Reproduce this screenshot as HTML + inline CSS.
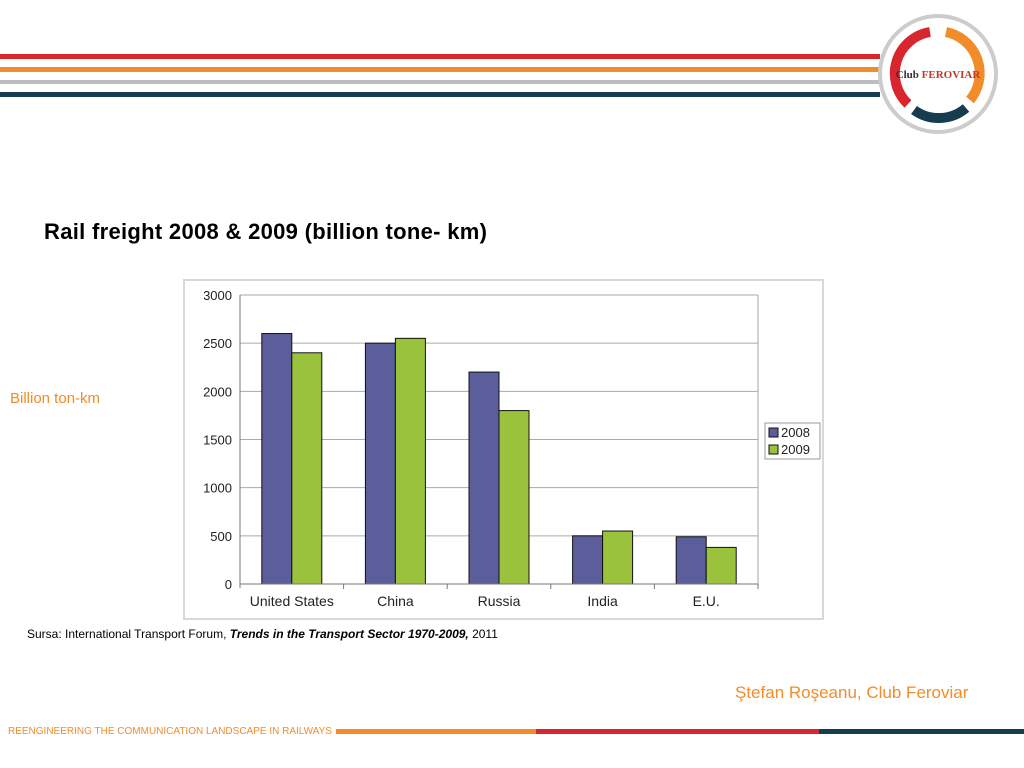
<!DOCTYPE html>
<html><head><meta charset="utf-8"><style>
body{margin:0;width:1024px;height:768px;background:#fff;position:relative;overflow:hidden;font-family:"Liberation Sans",sans-serif}
.abs{position:absolute}
</style></head><body>
<div class="abs" style="left:0;top:54px;width:880px;height:5px;background:#d9262e"></div>
<div class="abs" style="left:0;top:67px;width:880px;height:5px;background:#f28c28"></div>
<div class="abs" style="left:0;top:80px;width:880px;height:4px;background:#bdbdbd"></div>
<div class="abs" style="left:0;top:92px;width:880px;height:5px;background:#163d4f"></div>
<svg class="abs" style="left:870px;top:6px" width="154" height="140">
<circle cx="68" cy="68" r="58" fill="#fff" stroke="#ccc" stroke-width="4"/>
<path d="M60 26 A42 42 0 0 0 38 98" fill="none" stroke="#d9262e" stroke-width="10"/>
<path d="M76 26 A42 42 0 0 1 100 94" fill="none" stroke="#f28c28" stroke-width="10"/>
<path d="M44 104 A42 42 0 0 0 96 102" fill="none" stroke="#163d4f" stroke-width="10"/>
<text x="68" y="72" font-size="11" font-weight="bold" text-anchor="middle" fill="#333" font-family="Liberation Serif">Club <tspan fill="#c0392b">FEROVIAR</tspan></text>
</svg>
<div class="abs" style="left:44px;top:219px;font-size:22px;font-weight:bold;color:#000;letter-spacing:0.3px">Rail freight 2008 &amp; 2009 (billion tone- km)</div>
<div class="abs" style="left:10px;top:390px;font-size:15px;color:#f28c28">Billion ton-km</div>
<svg class="abs" id="chart" style="left:0;top:0" width="1024" height="768"></svg>
<div class="abs" style="left:27px;top:627px;font-size:12px;color:#000">Sursa: International Transport Forum, <b><i>Trends in the Transport Sector 1970-2009,</i></b> 2011</div>
<div class="abs" style="left:735px;top:683px;font-size:17px;color:#f28c28">Ştefan Roşeanu, Club Feroviar</div>
<div class="abs" style="left:8px;top:726px;font-size:10px;color:#f28c28">REENGINEERING THE COMMUNICATION LANDSCAPE IN RAILWAYS</div>
<div class="abs" style="left:336px;top:729px;width:200px;height:5px;background:#f28c28"></div>
<div class="abs" style="left:536px;top:729px;width:283px;height:5px;background:#d9262e"></div>
<div class="abs" style="left:819px;top:729px;width:205px;height:5px;background:#163d4f"></div>
<script>
const categories=["United States","China","Russia","India","E.U."];
const series2008=[2600,2500,2200,500,490];
const series2009=[2400,2550,1800,550,380];
const yTicks=[0,500,1000,1500,2000,2500,3000];
const NS="http://www.w3.org/2000/svg";
const svg=document.getElementById('chart');
const L=240,R=758,T=295,B=584;
const y=v=>B-(v/3000)*(B-T);
const bw=(R-L)/categories.length;
function mk(t,a,p){const e=document.createElementNS(NS,t);for(const k in a)e.setAttribute(k,a[k]);(p||svg).appendChild(e);return e;}
const frame=mk('rect',{x:184,y:280,width:639,height:339,fill:'#fff',stroke:'#d8d8d8','stroke-width':2});


yTicks.forEach(v=>{
 const g=mk('line',{x1:L,x2:R,y1:y(v),y2:y(v),stroke:'#aaa','stroke-width':1});
 
 
 const t=mk('text',{x:L-8,y:y(v)+5,'text-anchor':'end','font-size':13,fill:'#222'});
 t.textContent=v;
 
 
});
mk('line',{x1:R,x2:R,y1:T,y2:B,stroke:'#aaa'});
mk('line',{x1:L,x2:L,y1:T,y2:B+4,stroke:'#777'});
categories.forEach((c,i)=>{
 const x0=L+i*bw;
 mk('line',{x1:x0+bw,x2:x0+bw,y1:B,y2:B+5,stroke:'#777'});
 const w=30,cx=x0+bw/2;
 const b1=mk('rect',{x:cx-w,y:y(series2008[i]),width:w,height:B-y(series2008[i]),fill:'#5b5e9b',stroke:'#111','stroke-width':1});
 
 
 const b2=mk('rect',{x:cx,y:y(series2009[i]),width:w,height:B-y(series2009[i]),fill:'#9bc23c',stroke:'#111','stroke-width':1});
 
 
 const t=mk('text',{x:cx,y:B+22,'text-anchor':'middle','font-size':14,fill:'#222'});
 t.textContent=c;
 
 
});
mk('line',{x1:L,x2:R,y1:B,y2:B,stroke:'#777'});
const lg=mk('rect',{x:765,y:423,width:55,height:36,fill:'#fff',stroke:'#999'});


[["2008",'#5b5e9b'],["2009",'#9bc23c']].forEach((d,i)=>{
 const s=mk('rect',{x:769,y:428+i*17,width:9,height:9,fill:d[1],stroke:'#111'});
 
 
 const t=mk('text',{x:781,y:437+i*17,'font-size':13,fill:'#222'});
 t.textContent=d[0];
 
 
});
</script>
</body></html>
